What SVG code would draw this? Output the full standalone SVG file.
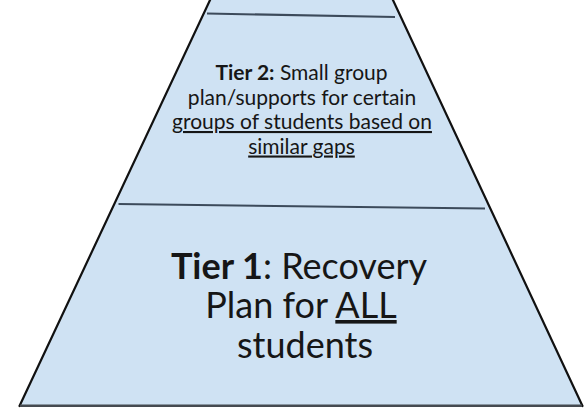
<svg xmlns="http://www.w3.org/2000/svg" width="587" height="408" viewBox="0 0 587 408">
  <style>
    .band { fill: #cfe2f3; }
    .edge { stroke: #111; stroke-width: 2.2; fill: none; stroke-linecap: round; }
    .divider { stroke: #3c4a5a; stroke-width: 2; fill: none; }
    .base { stroke: #454a50; stroke-width: 2.5; fill: none; }
    .label { font-family: Lato, "Liberation Sans", sans-serif; fill: #161616; text-anchor: middle; }
    .t2 { font-size: 21px; }
    .t1 { font-size: 36px; }
    .b { font-weight: bold; }
    .u { text-decoration: underline; }
  </style>
  <rect width="587" height="408" fill="#ffffff"/>

  <!-- pyramid body -->
  <g id="pyramid">
    <polygon class="band" points="212.4,-5 390.6,-5 582,406 20,406"/>
    <line class="edge" x1="212.4" y1="-5" x2="19.5" y2="406"/>
    <line class="edge" x1="390.6" y1="-5" x2="582.5" y2="406"/>
    <line class="base" x1="20" y1="405.8" x2="582" y2="405.8"/>
  </g>

  <!-- tier separators -->
  <g id="dividers">
    <line class="divider" x1="207" y1="13.5" x2="395" y2="17"/>
    <line class="divider" x1="118.5" y1="204" x2="485" y2="208.5"/>
  </g>

  <g id="tier3"/>

  <g id="tier2">
    <text class="label t2" x="301.5" y="80"><tspan class="b">Tier 2:</tspan> Small group</text>
    <text class="label t2" x="302" y="104.5">plan/supports for certain</text>
    <text class="label t2 u" x="302" y="129">groups of students based on</text>
    <text class="label t2 u" x="301.5" y="153.5">similar gaps</text>
  </g>

  <g id="tier1">
    <text class="label t1" x="299" y="279"><tspan class="b">Tier 1</tspan>: Recovery</text>
    <text class="label t1" x="301" y="318">Plan for <tspan class="u">ALL</tspan></text>
    <text class="label t1" x="305" y="358">students</text>
  </g>
</svg>
